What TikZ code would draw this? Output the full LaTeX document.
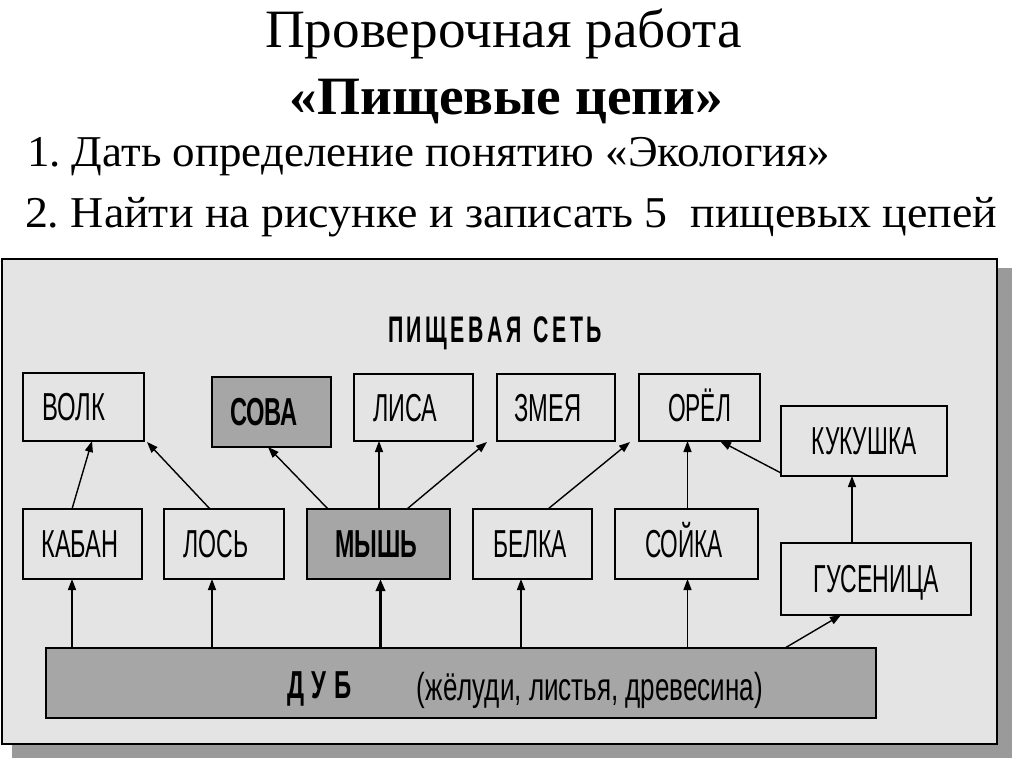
\documentclass[tikz,border=0pt]{standalone}
\usepackage{fontspec}
\usepackage{graphicx}
\usetikzlibrary{arrows.meta}
\newfontfamily\serifru{Liberation Serif}
\newfontfamily\sansru{Liberation Sans}
\definecolor{panel}{HTML}{E4E4E4}
\definecolor{darkbox}{HTML}{A6A6A6}
\definecolor{shadowc}{HTML}{9A9A9A}
\frenchspacing
\newcommand{\fitw}[2]{\resizebox{#1pt}{\height}{#2}}
\newcommand{\lab}[3][0]{{\hspace*{-#1pt}\sansru\fontsize{39}{39}\selectfont\fitw{#2}{#3}}}
\newcommand{\blab}[3][0]{{\hspace*{-#1pt}\sansru\bfseries\fontsize{39}{39}\selectfont\fitw{#2}{#3}}}
\begin{document}
\begin{tikzpicture}[x=1pt,y=-1pt,
  every node/.style={inner sep=0pt, outer sep=0pt},
  box/.style={draw, line width=1.8pt, fill=panel, text height=27pt, text depth=0pt},
  dbox/.style={draw, line width=1.8pt, fill=darkbox, text height=27pt, text depth=0pt},
  arr/.style={-{Triangle[length=11pt,width=8pt]}, line width=1.4pt},
  thickarr/.style={-{Triangle[length=12pt,width=9pt]}, line width=3pt},
  ttl/.style={font=\serifru\fontsize{54}{54}\selectfont},
  item/.style={font=\serifru\fontsize{44}{44}\selectfont}]
\useasboundingbox (0,0) rectangle (1024,767);
\fill[white] (0,0) rectangle (1024,767);
% title
\node[ttl, anchor=base] (t1) at (503.5,48) {\fitw{477}{Проверочная работа}};
\node[ttl, anchor=base] (t2) at (506.5,115) {\bfseries\fitw{433}{«Пищевые цепи»}};
\node[item, anchor=base west] (t3) at (27,167) {\fitw{803}{1. Дать определение понятию «Экология»}};
\node[item, anchor=base west] (t4) at (25,227) {\fitw{972}{2. Найти на рисунке и записать 5\ \ пищевых цепей}};
% shadow and panel
\fill[shadowc] (998,268) rectangle (1012,758);
\fill[shadowc] (12,745) rectangle (1012,758);
\node[draw, line width=2pt, fill=panel, minimum width=995pt, minimum height=485pt] (frame) at (499.5,501.5) {};
\node[anchor=base] (net) at (495,342) {{\sansru\bfseries\fontsize{37}{37}\selectfont\fitw{214}{П\,И\,Щ\,Е\,В\,А\,Я\ \ С\,Е\,Т\,Ь}}};
% top row
\node[box, minimum width=121pt, minimum height=68pt] (volk) at (83.5,407) {\lab[20]{63}{ВОЛК}};
\node[dbox, minimum width=119pt, minimum height=70pt] (sova) at (271.5,412) {\blab[15]{68}{СОВА}};
\node[box, minimum width=119pt, minimum height=67pt] (lisa) at (413.5,407.5) {\lab[17]{64}{ЛИСА}};
\node[box, minimum width=118pt, minimum height=67pt] (zmeya) at (556,407.5) {\lab[16]{67}{ЗМЕЯ}};
\node[box, minimum width=121pt, minimum height=67pt] (orel) at (699.5,407.5) {\lab{63}{ОРЁЛ}};
\node[box, minimum width=166pt, minimum height=70pt] (kuk) at (864,441) {\lab{105}{КУКУШКА}};
% middle row
\node[box, minimum width=119pt, minimum height=70pt] (kaban) at (82.5,544) {\lab[5]{77}{КАБАН}};
\node[box, minimum width=120pt, minimum height=70pt] (los) at (224,544) {\lab[16]{65}{ЛОСЬ}};
\node[dbox, minimum width=143pt, minimum height=70pt] (mysh) at (378.5,544) {\blab[5]{82}{МЫШЬ}};
\node[box, minimum width=119pt, minimum height=70pt] (belka) at (532.5,544) {\lab[5]{74}{БЕЛКА}};
\node[box, minimum width=143pt, minimum height=70pt] (soyka) at (686.5,544) {\lab[5]{78}{СОЙКА}};
\node[box, minimum width=190pt, minimum height=72pt] (gus) at (876,579) {\lab{125}{ГУСЕНИЦА}};
% oak
\node[dbox, minimum width=830pt, minimum height=70pt] (dub) at (461,683) {};
\node[anchor=base] (dubname) at (319.5,698) {\blab{65}{Д\,\,У\,\,Б}};
\node[anchor=base] (dubnote) at (590,700) {\lab{346}{(жёлуди, листья, древесина)}};
% connectors: oak to consumers
\coordinate (k1) at ([xshift=-10.5pt]kaban.south);
\coordinate (l1) at ([xshift=-12pt]los.south);
\coordinate (m1) at ([xshift=2pt]mysh.south);
\coordinate (b1) at ([xshift=-11.5pt]belka.south);
\coordinate (s1) at ([xshift=1pt]soyka.south);
\draw[arr] (dub.north -| k1) -- (k1);
\draw[arr] (dub.north -| l1) -- (l1);
\draw[thickarr] (dub.north -| m1) -- (m1);
\draw[arr] (dub.north -| b1) -- (b1);
\draw[arr] (dub.north -| s1) -- (s1);
\draw[arr] ([xshift=-91pt]dub.north east) -- ([xshift=-35pt]gus.south);
% upper links
\draw[arr] ([xshift=-10.5pt]kaban.north) -- ([xshift=8.5pt]volk.south);
\draw[arr] ([xshift=-14pt]los.north) -- ([xshift=3pt,yshift=-1pt]volk.south east);
\draw[arr] ([xshift=-50.5pt]mysh.north) -- ([xshift=-3.5pt]sova.south);
\coordinate (m2) at ([xshift=0.5pt]mysh.north);
\draw[arr] (m2) -- (m2 |- lisa.south);
\draw[arr] ([xshift=28.5pt]mysh.north) -- ([xshift=-10pt,yshift=-1pt]zmeya.south west);
\draw[arr] ([xshift=15.5pt]belka.north) -- ([xshift=-9pt,yshift=-1pt]orel.south west);
\coordinate (s2) at ([xshift=1pt]soyka.north);
\draw[arr] (s2) -- (s2 |- orel.south);
\draw[arr] ([yshift=3pt]kuk.south west) -- ([xshift=20.5pt]orel.south);
\coordinate (g1) at ([xshift=-24pt]gus.north);
\draw[arr] (g1) -- (g1 |- kuk.south);
\end{tikzpicture}
\end{document}
